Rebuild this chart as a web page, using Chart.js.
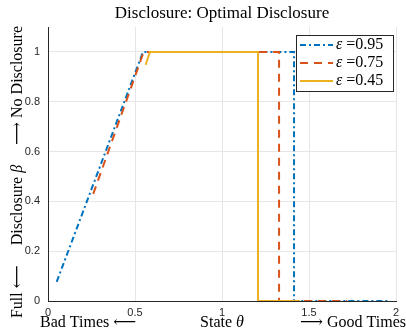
<!DOCTYPE html>
<html>
<head>
<meta charset="utf-8">
<script src="https://cdn.jsdelivr.net/npm/chart.js@4"></script>
<style>
  html, body { margin: 0; padding: 0; background: #fff; }
  #wrap { width: 406px; height: 333px; }
</style>
</head>
<body>
<div id="wrap"><canvas id="myChart" width="406" height="333"></canvas></div>
<script>
// values
var epsLabels = ['0.95', '0.75', '0.45'];
var thetaBlue = [0.05, 0.546, 1.414, 1.414, 1.96];
var betaBlue  = [0.077, 1, 1, 0, 0];
var thetaRed  = [0.26, 0.55, 1.328, 1.328, 1.72];
var betaRed   = [0.43, 1, 1, 0, 0];
var thetaYel  = [0.561, 0.586, 1.207, 1.207, 1.45];
var betaYel   = [0.948, 1, 1, 0, 0];
var xTicks = [0, 0.5, 1, 1.5, 2];
var yTicks = [0, 0.2, 0.4, 0.6, 0.8, 1];
var titleText = 'Disclosure: Optimal Disclosure';

var colors = ['#0072BD', '#D95319', '#EDB120'];
var dashes = [[6, 3, 2, 3], [8, 6], []];

function pts(xs, ys) {
  return xs.map(function(x, i) { return {x: x, y: ys[i]}; });
}

var serif = '"Liberation Serif", "DejaVu Serif", serif';
var norm = '16px ' + serif, ital = 'italic 16px ' + serif;

// draw text made of pieces [text, font]; align: 'left' | 'center' | 'right'
function pieces(c, parts, x, y, align) {
  var w = 0;
  parts.forEach(function(p) { c.font = p[1]; w += c.measureText(p[0]).width; });
  var cx = align == 'center' ? x - w / 2 : (align == 'right' ? x - w : x);
  c.textAlign = 'left';
  parts.forEach(function(p) { c.font = p[1]; c.fillText(p[0], cx, y); cx += c.measureText(p[0]).width; });
}

// title, legend box + axis captions (texts only)
var extras = {
  id: 'extras',
  afterDraw: function(chart) {
    var c = chart.ctx, a = chart.chartArea;
    var mid = (a.left + a.right) / 2;
    c.save();
    c.textBaseline = 'middle';
    c.fillStyle = '#000';
    pieces(c, [[titleText, '17px ' + serif]], mid, 14, 'center');
    // legend
    var lx = 296, ly = 35, lw = 97, lh = 56;
    c.fillStyle = '#fff';
    c.fillRect(lx, ly, lw, lh);
    c.strokeStyle = '#262626';
    c.lineWidth = 1;
    c.setLineDash([]);
    c.strokeRect(lx + 0.5, ly + 0.5, lw, lh);
    for (var i = 0; i < 3; i++) {
      var yy = ly + 10 + i * 18;
      c.strokeStyle = colors[i];
      c.lineWidth = 2;
      c.setLineDash(dashes[i]);
      c.beginPath();
      c.moveTo(lx + 4, yy);
      c.lineTo(lx + 37, yy);
      c.stroke();
      c.setLineDash([]);
      c.fillStyle = '#000';
      pieces(c, [['\u03b5', ital], [' =' + epsLabels[i], norm]], lx + 40, yy, 'left');
    }
    // x captions
    c.fillStyle = '#000';
    pieces(c, [['Bad Times \u27f5', norm]], 40, 323, 'left');
    pieces(c, [['State ', norm], ['\u03b8', ital]], mid, 323, 'center');
    pieces(c, [['\u27f6 Good Times', norm]], 406, 323, 'right');
    // y caption
    c.translate(18, 172);
    c.rotate(-Math.PI / 2);
    pieces(c, [['Full \u27f5     Disclosure ', norm], ['\u03b2', ital], ['     \u27f6 No Disclosure', norm]], 0, 0, 'center');
    c.restore();
  }
};

var ctx = document.getElementById('myChart').getContext('2d');
var chart = new Chart(ctx, {
  type: 'line',
  data: {
    datasets: [
      {label: '\u03b5 =' + epsLabels[2], data: pts(thetaYel, betaYel), borderColor: colors[2], borderDash: dashes[2], order: 0},
      {label: '\u03b5 =' + epsLabels[1], data: pts(thetaRed, betaRed), borderColor: colors[1], borderDash: dashes[1], order: 1},
      {label: '\u03b5 =' + epsLabels[0], data: pts(thetaBlue, betaBlue), borderColor: colors[0], borderDash: dashes[0], order: 2}
    ]
  },
  options: {
    responsive: false,
    animation: false,
    elements: {
      line: {borderWidth: 2, tension: 0, fill: false},
      point: {radius: 0}
    },
    layout: {padding: {top: 27, right: 10, bottom: 0, left: 0}},
    plugins: {
      legend: {display: false},
      tooltip: {enabled: false},
      title: {display: false}
    },
    scales: {
      x: {
        type: 'linear',
        min: 0, max: 2,
        afterBuildTicks: function(s) { s.ticks = xTicks.map(function(v) { return {value: v}; }); },
        afterFit: function(s) { s.height = 32; },
        ticks: {
          color: '#262626', font: {family: 'Helvetica, "Liberation Sans", Arial', size: 11},
          maxRotation: 0, padding: 5,
          callback: function(v) { return String(v); }
        },
        grid: {color: '#e6e6e6', drawTicks: false},
        border: {color: '#262626', width: 1}
      },
      y: {
        min: 0, max: 1.1,
        afterBuildTicks: function(s) { s.ticks = yTicks.map(function(v) { return {value: v}; }); },
        afterFit: function(s) { s.width = 48; },
        ticks: {
          color: '#262626', font: {family: 'Helvetica, "Liberation Sans", Arial', size: 11},
          padding: 8,
          callback: function(v) { return String(v); }
        },
        grid: {color: '#e6e6e6', drawTicks: false},
        border: {color: '#262626', width: 1}
      }
    }
  },
  plugins: [extras]
});
</script>
</body>
</html>
